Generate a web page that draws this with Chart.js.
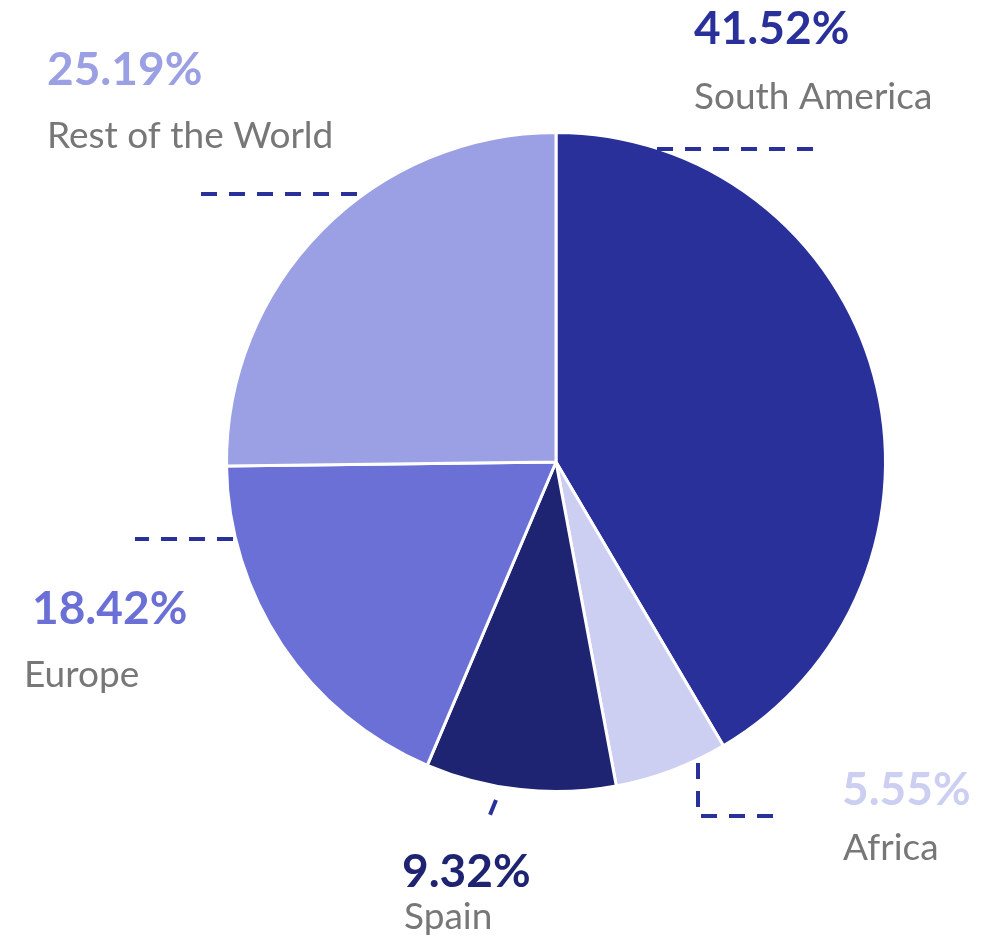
<!DOCTYPE html>
<html>
<head>
<meta charset="utf-8">
<script src="https://cdn.jsdelivr.net/npm/chart.js@4/dist/chart.umd.min.js"></script>
<style>
  html, body { margin: 0; padding: 0; background: #fff; }
  #wrap { width: 1007px; height: 939px; position: relative; }
</style>
</head>
<body>
<div id="wrap"><canvas id="pie" width="1007" height="939"></canvas></div>
<script>
// data, clockwise from 12 o'clock
const regions = ['South America', 'Africa', 'Spain', 'Europe', 'Rest of the World'];
const shares = [41.52, 5.55, 9.32, 18.42, 25.19];
const sliceColors = ['#29309a', '#cdcff2', '#1f2472', '#6a70d6', '#9aa0e3'];

// label placement, offsets from the pie centre (px)
// line: leader polyline, (px,py): percent baseline, (nx,ny): name baseline
const labelLayout = [
  { line: [[101, -313], [257, -313]], px: 138, py: -418, nx: 138, ny: -353 },
  { line: [[142, 301], [142, 354], [217, 354]], px: 286, py: 343, nx: 287, ny: 398 },
  { line: [[-60, 338], [-66, 353]], px: -154, py: 425, nx: -152, ny: 467 },
  { line: [[-323, 77], [-421, 77]], px: -524, py: 162, nx: -532, ny: 225 },
  { line: [[-199, -268], [-355, -268]], px: -509, py: -377, nx: -509, ny: -314 }
];

const leaderLabels = {
  id: 'leaderLabels',
  afterDraw(chart) {
    const ctx = chart.ctx;
    const arcs = chart.getDatasetMeta(0).data;
    arcs.forEach((arc, i) => {
      const cx = arc.x, cy = arc.y;
      const lay = labelLayout[i];
      ctx.save();
      ctx.strokeStyle = '#29309a';
      ctx.lineWidth = 4;
      ctx.lineCap = 'butt';
      ctx.setLineDash([16, 12]);
      ctx.beginPath();
      lay.line.forEach((p, k) => {
        if (k === 0) ctx.moveTo(cx + p[0], cy + p[1]);
        else ctx.lineTo(cx + p[0], cy + p[1]);
      });
      ctx.stroke();
      ctx.setLineDash([]);

      ctx.textBaseline = 'alphabetic';
      ctx.textAlign = 'left';
      ctx.fillStyle = sliceColors[i];
      ctx.font = 'bold 46px Lato';
      ctx.fillText(shares[i].toFixed(2) + '%', cx + lay.px, cy + lay.py);
      ctx.fillStyle = '#777777';
      ctx.font = '37px Lato';
      ctx.fillText(regions[i], cx + lay.nx, cy + lay.ny);
      ctx.restore();
    });
  }
};

new Chart(document.getElementById('pie'), {
  type: 'pie',
  data: {
    labels: regions,
    datasets: [{
      data: shares,
      backgroundColor: sliceColors,
      borderColor: '#ffffff',
      borderWidth: 3
    }]
  },
  options: {
    responsive: false,
    animation: false,
    layout: { padding: { top: 131, bottom: 146, left: 225, right: 120 } },
    plugins: {
      legend: { display: false },
      tooltip: { enabled: false }
    }
  },
  plugins: [leaderLabels]
});
</script>
</body>
</html>
